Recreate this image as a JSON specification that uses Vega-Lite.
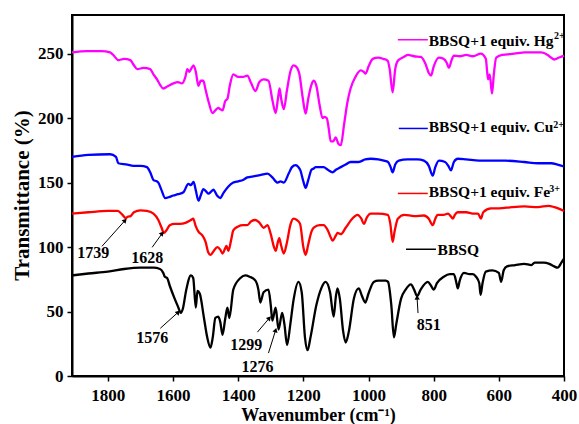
{
  "$schema": "https://vega.github.io/schema/vega-lite/v6.json",
  "width": 492,
  "height": 361,
  "autosize": {"type": "none"},
  "padding": {"left": 72, "top": 15, "right": 15, "bottom": 48},
  "background": "white",
  "config": {
    "view": {"stroke": "black", "strokeWidth": 2},
    "font": "Liberation Serif",
    "axis": {
      "grid": false,
      "domainColor": "black",
      "domainWidth": 2,
      "tickColor": "black",
      "tickWidth": 1.5,
      "tickSize": 5,
      "labelFont": "Liberation Serif",
      "labelFontWeight": "bold",
      "labelColor": "black",
      "titleFont": "Liberation Serif",
      "titleFontWeight": "bold",
      "titleColor": "black"
    }
  },
  "datasets": {
    "spectra": [
      {"series":"BBSQ","wn":1910,"t":78},{"series":"BBSQ","wn":1860,"t":79.5},{"series":"BBSQ","wn":1800,"t":81},{"series":"BBSQ","wn":1750,"t":83},{"series":"BBSQ","wn":1700,"t":84},{"series":"BBSQ","wn":1660,"t":84},{"series":"BBSQ","wn":1640,"t":83},{"series":"BBSQ","wn":1630,"t":80},{"series":"BBSQ","wn":1625,"t":77},{"series":"BBSQ","wn":1618,"t":76},{"series":"BBSQ","wn":1610,"t":70},{"series":"BBSQ","wn":1595,"t":60},{"series":"BBSQ","wn":1585,"t":54},{"series":"BBSQ","wn":1576,"t":49},{"series":"BBSQ","wn":1570,"t":52},{"series":"BBSQ","wn":1560,"t":66},{"series":"BBSQ","wn":1545,"t":78},{"series":"BBSQ","wn":1538,"t":76},{"series":"BBSQ","wn":1530,"t":53},{"series":"BBSQ","wn":1525,"t":66},{"series":"BBSQ","wn":1518,"t":64},{"series":"BBSQ","wn":1505,"t":45},{"series":"BBSQ","wn":1495,"t":30},{"series":"BBSQ","wn":1485,"t":22},{"series":"BBSQ","wn":1478,"t":30},{"series":"BBSQ","wn":1470,"t":45},{"series":"BBSQ","wn":1461,"t":46},{"series":"BBSQ","wn":1455,"t":42},{"series":"BBSQ","wn":1448,"t":32},{"series":"BBSQ","wn":1440,"t":44},{"series":"BBSQ","wn":1433,"t":53},{"series":"BBSQ","wn":1427,"t":45},{"series":"BBSQ","wn":1415,"t":67},{"series":"BBSQ","wn":1393,"t":76},{"series":"BBSQ","wn":1378,"t":78},{"series":"BBSQ","wn":1365,"t":77},{"series":"BBSQ","wn":1347,"t":74},{"series":"BBSQ","wn":1338,"t":67},{"series":"BBSQ","wn":1332,"t":57},{"series":"BBSQ","wn":1322,"t":65},{"series":"BBSQ","wn":1307,"t":67},{"series":"BBSQ","wn":1300,"t":55},{"series":"BBSQ","wn":1295,"t":43},{"series":"BBSQ","wn":1285,"t":53},{"series":"BBSQ","wn":1276,"t":36},{"series":"BBSQ","wn":1265,"t":49},{"series":"BBSQ","wn":1258,"t":40},{"series":"BBSQ","wn":1250,"t":24},{"series":"BBSQ","wn":1240,"t":40},{"series":"BBSQ","wn":1230,"t":59},{"series":"BBSQ","wn":1215,"t":73},{"series":"BBSQ","wn":1205,"t":65},{"series":"BBSQ","wn":1195,"t":30},{"series":"BBSQ","wn":1187,"t":20},{"series":"BBSQ","wn":1178,"t":30},{"series":"BBSQ","wn":1160,"t":55},{"series":"BBSQ","wn":1145,"t":68},{"series":"BBSQ","wn":1132,"t":73},{"series":"BBSQ","wn":1118,"t":65},{"series":"BBSQ","wn":1107,"t":46},{"series":"BBSQ","wn":1100,"t":62},{"series":"BBSQ","wn":1095,"t":68},{"series":"BBSQ","wn":1088,"t":60},{"series":"BBSQ","wn":1078,"t":35},{"series":"BBSQ","wn":1070,"t":26},{"series":"BBSQ","wn":1060,"t":35},{"series":"BBSQ","wn":1045,"t":60},{"series":"BBSQ","wn":1030,"t":68},{"series":"BBSQ","wn":1020,"t":62},{"series":"BBSQ","wn":1010,"t":57},{"series":"BBSQ","wn":1000,"t":64},{"series":"BBSQ","wn":984,"t":73},{"series":"BBSQ","wn":970,"t":74},{"series":"BBSQ","wn":947,"t":74},{"series":"BBSQ","wn":940,"t":73},{"series":"BBSQ","wn":930,"t":55},{"series":"BBSQ","wn":922,"t":30},{"series":"BBSQ","wn":915,"t":40},{"series":"BBSQ","wn":900,"t":60},{"series":"BBSQ","wn":886,"t":67},{"series":"BBSQ","wn":870,"t":71},{"series":"BBSQ","wn":860,"t":67},{"series":"BBSQ","wn":851,"t":62},{"series":"BBSQ","wn":840,"t":67},{"series":"BBSQ","wn":818,"t":73},{"series":"BBSQ","wn":808,"t":70},{"series":"BBSQ","wn":800,"t":67},{"series":"BBSQ","wn":790,"t":72},{"series":"BBSQ","wn":769,"t":77},{"series":"BBSQ","wn":750,"t":79},{"series":"BBSQ","wn":738,"t":79},{"series":"BBSQ","wn":730,"t":72},{"series":"BBSQ","wn":726,"t":68},{"series":"BBSQ","wn":720,"t":74},{"series":"BBSQ","wn":707,"t":80},{"series":"BBSQ","wn":690,"t":79},{"series":"BBSQ","wn":680,"t":79},{"series":"BBSQ","wn":670,"t":77},{"series":"BBSQ","wn":660,"t":72},{"series":"BBSQ","wn":656,"t":63},{"series":"BBSQ","wn":650,"t":72},{"series":"BBSQ","wn":640,"t":81},{"series":"BBSQ","wn":620,"t":82},{"series":"BBSQ","wn":600,"t":80},{"series":"BBSQ","wn":593,"t":73},{"series":"BBSQ","wn":585,"t":82},{"series":"BBSQ","wn":575,"t":85},{"series":"BBSQ","wn":550,"t":86},{"series":"BBSQ","wn":522,"t":87},{"series":"BBSQ","wn":500,"t":86},{"series":"BBSQ","wn":490,"t":88},{"series":"BBSQ","wn":462,"t":88},{"series":"BBSQ","wn":445,"t":87},{"series":"BBSQ","wn":430,"t":85},{"series":"BBSQ","wn":420,"t":84},{"series":"BBSQ","wn":415,"t":85},{"series":"BBSQ","wn":408,"t":88},{"series":"BBSQ","wn":400,"t":91},

      {"series":"Fe","wn":1910,"t":126},{"series":"Fe","wn":1860,"t":127},{"series":"Fe","wn":1800,"t":128},{"series":"Fe","wn":1770,"t":128},{"series":"Fe","wn":1755,"t":125},{"series":"Fe","wn":1745,"t":122.5},{"series":"Fe","wn":1739,"t":123.5},{"series":"Fe","wn":1730,"t":124},{"series":"Fe","wn":1720,"t":127},{"series":"Fe","wn":1700,"t":128.5},{"series":"Fe","wn":1680,"t":128},{"series":"Fe","wn":1660,"t":126},{"series":"Fe","wn":1645,"t":121},{"series":"Fe","wn":1635,"t":115},{"series":"Fe","wn":1628,"t":111},{"series":"Fe","wn":1620,"t":113},{"series":"Fe","wn":1610,"t":117},{"series":"Fe","wn":1595,"t":118},{"series":"Fe","wn":1580,"t":118},{"series":"Fe","wn":1560,"t":119},{"series":"Fe","wn":1545,"t":121},{"series":"Fe","wn":1538,"t":122},{"series":"Fe","wn":1530,"t":116},{"series":"Fe","wn":1522,"t":112},{"series":"Fe","wn":1510,"t":109},{"series":"Fe","wn":1500,"t":104},{"series":"Fe","wn":1492,"t":96},{"series":"Fe","wn":1485,"t":94},{"series":"Fe","wn":1475,"t":97},{"series":"Fe","wn":1464,"t":100},{"series":"Fe","wn":1455,"t":98},{"series":"Fe","wn":1448,"t":95},{"series":"Fe","wn":1440,"t":99},{"series":"Fe","wn":1436,"t":101},{"series":"Fe","wn":1430,"t":97},{"series":"Fe","wn":1422,"t":105},{"series":"Fe","wn":1415,"t":113},{"series":"Fe","wn":1400,"t":116},{"series":"Fe","wn":1385,"t":117},{"series":"Fe","wn":1372,"t":117},{"series":"Fe","wn":1360,"t":120},{"series":"Fe","wn":1347,"t":121},{"series":"Fe","wn":1335,"t":119},{"series":"Fe","wn":1322,"t":115},{"series":"Fe","wn":1310,"t":117},{"series":"Fe","wn":1300,"t":110},{"series":"Fe","wn":1290,"t":100},{"series":"Fe","wn":1285,"t":97},{"series":"Fe","wn":1278,"t":104},{"series":"Fe","wn":1274,"t":107},{"series":"Fe","wn":1268,"t":101},{"series":"Fe","wn":1260,"t":95},{"series":"Fe","wn":1250,"t":104},{"series":"Fe","wn":1240,"t":117},{"series":"Fe","wn":1230,"t":122},{"series":"Fe","wn":1220,"t":121},{"series":"Fe","wn":1210,"t":118},{"series":"Fe","wn":1200,"t":100},{"series":"Fe","wn":1193,"t":94},{"series":"Fe","wn":1185,"t":102},{"series":"Fe","wn":1175,"t":112},{"series":"Fe","wn":1168,"t":115},{"series":"Fe","wn":1150,"t":117},{"series":"Fe","wn":1138,"t":117},{"series":"Fe","wn":1125,"t":113},{"series":"Fe","wn":1115,"t":107},{"series":"Fe","wn":1110,"t":105},{"series":"Fe","wn":1100,"t":109},{"series":"Fe","wn":1095,"t":111},{"series":"Fe","wn":1085,"t":110},{"series":"Fe","wn":1070,"t":115},{"series":"Fe","wn":1050,"t":122},{"series":"Fe","wn":1034,"t":125},{"series":"Fe","wn":1022,"t":122},{"series":"Fe","wn":1014,"t":118},{"series":"Fe","wn":1005,"t":123},{"series":"Fe","wn":993,"t":126},{"series":"Fe","wn":970,"t":126},{"series":"Fe","wn":941,"t":125},{"series":"Fe","wn":933,"t":118},{"series":"Fe","wn":926,"t":104},{"series":"Fe","wn":920,"t":112},{"series":"Fe","wn":910,"t":122},{"series":"Fe","wn":890,"t":125},{"series":"Fe","wn":860,"t":124},{"series":"Fe","wn":830,"t":124.5},{"series":"Fe","wn":815,"t":122},{"series":"Fe","wn":803,"t":117},{"series":"Fe","wn":795,"t":122},{"series":"Fe","wn":788,"t":125},{"series":"Fe","wn":770,"t":125},{"series":"Fe","wn":756,"t":126},{"series":"Fe","wn":748,"t":124},{"series":"Fe","wn":741,"t":122},{"series":"Fe","wn":735,"t":125},{"series":"Fe","wn":726,"t":127},{"series":"Fe","wn":700,"t":127},{"series":"Fe","wn":680,"t":126},{"series":"Fe","wn":664,"t":126},{"series":"Fe","wn":655,"t":122},{"series":"Fe","wn":648,"t":127},{"series":"Fe","wn":624,"t":130},{"series":"Fe","wn":600,"t":130},{"series":"Fe","wn":560,"t":131},{"series":"Fe","wn":522,"t":131.5},{"series":"Fe","wn":480,"t":131},{"series":"Fe","wn":448,"t":132},{"series":"Fe","wn":430,"t":131},{"series":"Fe","wn":418,"t":130},{"series":"Fe","wn":400,"t":128},

      {"series":"Cu","wn":1910,"t":170},{"series":"Cu","wn":1860,"t":171.5},{"series":"Cu","wn":1793,"t":172},{"series":"Cu","wn":1775,"t":170},{"series":"Cu","wn":1768,"t":165},{"series":"Cu","wn":1740,"t":164},{"series":"Cu","wn":1722,"t":163},{"series":"Cu","wn":1700,"t":163},{"series":"Cu","wn":1680,"t":162},{"series":"Cu","wn":1670,"t":158},{"series":"Cu","wn":1660,"t":152},{"series":"Cu","wn":1650,"t":151},{"series":"Cu","wn":1645,"t":150},{"series":"Cu","wn":1635,"t":144},{"series":"Cu","wn":1624,"t":138},{"series":"Cu","wn":1610,"t":139},{"series":"Cu","wn":1599,"t":140},{"series":"Cu","wn":1585,"t":141},{"series":"Cu","wn":1568,"t":142.5},{"series":"Cu","wn":1553,"t":149},{"series":"Cu","wn":1545,"t":148},{"series":"Cu","wn":1537,"t":150.5},{"series":"Cu","wn":1530,"t":144},{"series":"Cu","wn":1522,"t":136},{"series":"Cu","wn":1515,"t":140},{"series":"Cu","wn":1507,"t":145},{"series":"Cu","wn":1498,"t":143},{"series":"Cu","wn":1491,"t":141.5},{"series":"Cu","wn":1483,"t":143},{"series":"Cu","wn":1476,"t":144.5},{"series":"Cu","wn":1465,"t":140},{"series":"Cu","wn":1455,"t":138},{"series":"Cu","wn":1445,"t":142},{"series":"Cu","wn":1430,"t":147},{"series":"Cu","wn":1415,"t":150},{"series":"Cu","wn":1400,"t":151},{"series":"Cu","wn":1385,"t":152},{"series":"Cu","wn":1372,"t":154},{"series":"Cu","wn":1350,"t":155},{"series":"Cu","wn":1330,"t":156},{"series":"Cu","wn":1310,"t":157},{"series":"Cu","wn":1295,"t":154},{"series":"Cu","wn":1279,"t":150},{"series":"Cu","wn":1270,"t":151},{"series":"Cu","wn":1260,"t":150},{"series":"Cu","wn":1245,"t":157},{"series":"Cu","wn":1235,"t":162},{"series":"Cu","wn":1224,"t":163.5},{"series":"Cu","wn":1215,"t":162},{"series":"Cu","wn":1209,"t":159.5},{"series":"Cu","wn":1200,"t":151},{"series":"Cu","wn":1193,"t":146},{"series":"Cu","wn":1185,"t":152},{"series":"Cu","wn":1175,"t":160},{"series":"Cu","wn":1168,"t":161},{"series":"Cu","wn":1162,"t":162},{"series":"Cu","wn":1150,"t":162},{"series":"Cu","wn":1138,"t":162},{"series":"Cu","wn":1125,"t":160},{"series":"Cu","wn":1110,"t":158},{"series":"Cu","wn":1100,"t":160},{"series":"Cu","wn":1085,"t":162},{"series":"Cu","wn":1070,"t":164},{"series":"Cu","wn":1055,"t":166},{"series":"Cu","wn":1030,"t":166},{"series":"Cu","wn":1010,"t":168},{"series":"Cu","wn":993,"t":168.5},{"series":"Cu","wn":970,"t":168},{"series":"Cu","wn":953,"t":167},{"series":"Cu","wn":940,"t":166},{"series":"Cu","wn":932,"t":162},{"series":"Cu","wn":926,"t":158},{"series":"Cu","wn":918,"t":164},{"series":"Cu","wn":907,"t":167},{"series":"Cu","wn":880,"t":168},{"series":"Cu","wn":850,"t":168},{"series":"Cu","wn":830,"t":167},{"series":"Cu","wn":815,"t":163},{"series":"Cu","wn":803,"t":155.5},{"series":"Cu","wn":795,"t":162},{"series":"Cu","wn":784,"t":167},{"series":"Cu","wn":765,"t":166},{"series":"Cu","wn":755,"t":163},{"series":"Cu","wn":747,"t":159.5},{"series":"Cu","wn":738,"t":166},{"series":"Cu","wn":726,"t":168.5},{"series":"Cu","wn":700,"t":168},{"series":"Cu","wn":660,"t":167},{"series":"Cu","wn":624,"t":167},{"series":"Cu","wn":580,"t":167},{"series":"Cu","wn":522,"t":166},{"series":"Cu","wn":480,"t":165},{"series":"Cu","wn":439,"t":165},{"series":"Cu","wn":420,"t":164},{"series":"Cu","wn":400,"t":162.5},

      {"series":"Hg","wn":1910,"t":251},{"series":"Hg","wn":1864,"t":252},{"series":"Hg","wn":1820,"t":252},{"series":"Hg","wn":1793,"t":251},{"series":"Hg","wn":1780,"t":248},{"series":"Hg","wn":1768,"t":245},{"series":"Hg","wn":1750,"t":246},{"series":"Hg","wn":1731,"t":245},{"series":"Hg","wn":1720,"t":241},{"series":"Hg","wn":1710,"t":238},{"series":"Hg","wn":1690,"t":239},{"series":"Hg","wn":1670,"t":238},{"series":"Hg","wn":1660,"t":234},{"series":"Hg","wn":1649,"t":230},{"series":"Hg","wn":1640,"t":226},{"series":"Hg","wn":1630,"t":223},{"series":"Hg","wn":1615,"t":225},{"series":"Hg","wn":1599,"t":227},{"series":"Hg","wn":1585,"t":228},{"series":"Hg","wn":1572,"t":227},{"series":"Hg","wn":1562,"t":232},{"series":"Hg","wn":1556,"t":238},{"series":"Hg","wn":1550,"t":236},{"series":"Hg","wn":1547,"t":237},{"series":"Hg","wn":1537,"t":241},{"series":"Hg","wn":1530,"t":236},{"series":"Hg","wn":1522,"t":225},{"series":"Hg","wn":1515,"t":229},{"series":"Hg","wn":1507,"t":229},{"series":"Hg","wn":1500,"t":222},{"series":"Hg","wn":1490,"t":212},{"series":"Hg","wn":1479,"t":204},{"series":"Hg","wn":1470,"t":206},{"series":"Hg","wn":1461,"t":208},{"series":"Hg","wn":1455,"t":207},{"series":"Hg","wn":1448,"t":206},{"series":"Hg","wn":1440,"t":213},{"series":"Hg","wn":1433,"t":215},{"series":"Hg","wn":1425,"t":226},{"series":"Hg","wn":1415,"t":234},{"series":"Hg","wn":1400,"t":232},{"series":"Hg","wn":1385,"t":232},{"series":"Hg","wn":1372,"t":233},{"series":"Hg","wn":1360,"t":227},{"series":"Hg","wn":1347,"t":221},{"series":"Hg","wn":1335,"t":228},{"series":"Hg","wn":1322,"t":230},{"series":"Hg","wn":1307,"t":229},{"series":"Hg","wn":1295,"t":214},{"series":"Hg","wn":1285,"t":204},{"series":"Hg","wn":1278,"t":215},{"series":"Hg","wn":1273,"t":223},{"series":"Hg","wn":1268,"t":215},{"series":"Hg","wn":1260,"t":207},{"series":"Hg","wn":1250,"t":222},{"series":"Hg","wn":1240,"t":236},{"series":"Hg","wn":1230,"t":241},{"series":"Hg","wn":1222,"t":240},{"series":"Hg","wn":1212,"t":234},{"series":"Hg","wn":1202,"t":216},{"series":"Hg","wn":1193,"t":203.5},{"series":"Hg","wn":1185,"t":215},{"series":"Hg","wn":1175,"t":226},{"series":"Hg","wn":1168,"t":229},{"series":"Hg","wn":1160,"t":225},{"series":"Hg","wn":1150,"t":210},{"series":"Hg","wn":1141,"t":200},{"series":"Hg","wn":1135,"t":201},{"series":"Hg","wn":1128,"t":200},{"series":"Hg","wn":1122,"t":192},{"series":"Hg","wn":1116,"t":182},{"series":"Hg","wn":1108,"t":182},{"series":"Hg","wn":1101,"t":185},{"series":"Hg","wn":1092,"t":180},{"series":"Hg","wn":1085,"t":179},{"series":"Hg","wn":1075,"t":195},{"series":"Hg","wn":1065,"t":212},{"series":"Hg","wn":1055,"t":223},{"series":"Hg","wn":1040,"t":232},{"series":"Hg","wn":1024,"t":237},{"series":"Hg","wn":1015,"t":236},{"series":"Hg","wn":1009,"t":234.5},{"series":"Hg","wn":1000,"t":240},{"series":"Hg","wn":987,"t":246},{"series":"Hg","wn":970,"t":247},{"series":"Hg","wn":955,"t":246},{"series":"Hg","wn":941,"t":244.5},{"series":"Hg","wn":935,"t":238},{"series":"Hg","wn":926,"t":220},{"series":"Hg","wn":918,"t":238},{"series":"Hg","wn":910,"t":244.5},{"series":"Hg","wn":895,"t":247},{"series":"Hg","wn":879,"t":249},{"series":"Hg","wn":860,"t":248},{"series":"Hg","wn":839,"t":247.5},{"series":"Hg","wn":825,"t":242},{"series":"Hg","wn":815,"t":235},{"series":"Hg","wn":808,"t":233},{"series":"Hg","wn":800,"t":240},{"series":"Hg","wn":784,"t":247},{"series":"Hg","wn":770,"t":246},{"series":"Hg","wn":760,"t":243},{"series":"Hg","wn":753,"t":239},{"series":"Hg","wn":745,"t":245},{"series":"Hg","wn":738,"t":248.5},{"series":"Hg","wn":720,"t":248},{"series":"Hg","wn":700,"t":249},{"series":"Hg","wn":680,"t":248},{"series":"Hg","wn":655,"t":250},{"series":"Hg","wn":640,"t":246},{"series":"Hg","wn":633,"t":230},{"series":"Hg","wn":628,"t":234},{"series":"Hg","wn":621,"t":219},{"series":"Hg","wn":615,"t":235},{"series":"Hg","wn":608,"t":247},{"series":"Hg","wn":590,"t":249},{"series":"Hg","wn":553,"t":250},{"series":"Hg","wn":520,"t":251},{"series":"Hg","wn":490,"t":251},{"series":"Hg","wn":470,"t":251},{"series":"Hg","wn":450,"t":249},{"series":"Hg","wn":440,"t":247},{"series":"Hg","wn":430,"t":245.5},{"series":"Hg","wn":415,"t":247},{"series":"Hg","wn":400,"t":248.5}
    ],
    "legendLines": [
      {"series":"Hg","x":910,"x2":818,"y":260.8},
      {"series":"Cu","x":907,"x2":818,"y":192},
      {"series":"Fe","x":910,"x2":818,"y":141.6},
      {"series":"BBSQ","x":885,"x2":793,"y":98.3}
    ],
    "legendText": [
      {"label":"BBSQ+1 equiv. Hg","x":815,"y":256.2},
      {"label":"BBSQ+1 equiv. Cu","x":815,"y":188.9},
      {"label":"BBSQ+1 equiv. Fe","x":815,"y":138.5},
      {"label":"BBSQ","x":788,"y":93.7}
    ],
    "supText": [
      {"label":"2+","x":431,"y":261},
      {"label":"2+","x":433,"y":192.7},
      {"label":"3+","x":445,"y":142.4}
    ],
    "arrows": [
      {"peak":"1739","x":1818,"y":100.6,"x2":1747,"y2":120.7},
      {"peak":"1628","x":1664,"y":99.8,"x2":1633,"y2":110.7},
      {"peak":"1576","x":1639,"y":37,"x2":1584,"y2":49.5},
      {"peak":"1299","x":1341,"y":34,"x2":1304,"y2":45},
      {"peak":"1276","x":1307,"y":17.8,"x2":1285,"y2":35.6},
      {"peak":"851","x":848,"y":48.8,"x2":851,"y2":61}
    ],
    "peakLabels": [
      {"peak":"1739","x":1845,"y":91.3},
      {"peak":"1628","x":1679,"y":87.5},
      {"peak":"1576","x":1664,"y":25.5},
      {"peak":"1299","x":1375,"y":20},
      {"peak":"1276","x":1341,"y":3.1},
      {"peak":"851","x":815,"y":35.6}
    ]
  },
  "layer": [
    {
      "data": {"name": "spectra"},
      "mark": {"type": "line", "strokeWidth": 2.3, "interpolate": "monotone"},
      "encoding": {
        "x": {
          "field": "wn", "type": "quantitative",
          "title": "Wavenumber (cm⁻¹)",
          "scale": {"domain": [400, 1910], "reverse": true, "nice": false, "zero": false},
          "axis": {
            "values": [1900,1800,1700,1600,1500,1400,1300,1200,1100,1000,900,800,700,600,500,400],
            "format": "d",
            "labelExpr": "datum.value % 200 == 0 ? datum.label : ''",
            "labelFontSize": 17,
            "labelPadding": 6,
            "labelFlush": false,
            "labelOverlap": false,
            "titleFontSize": 18,
            "titleBaseline": "alphabetic",
            "titleY": 44
          }
        },
        "y": {
          "field": "t", "type": "quantitative",
          "title": "Transmittance (%)",
          "scale": {"domain": [0, 280], "nice": false},
          "axis": {
            "values": [0,25,50,75,100,125,150,175,200,225,250,275],
            "labelExpr": "datum.value % 50 == 0 ? datum.label : ''",
            "labelFontSize": 17,
            "labelPadding": 4,
            "labelOverlap": false,
            "labelFlush": false,
            "titleFontSize": 21,
            "titleX": -50,
            "titleY": 180,
            "titleAlign": "center",
            "titleBaseline": "middle",
            "titleAngle": -90
          }
        },
        "color": {
          "field": "series", "type": "nominal",
          "scale": {"domain": ["BBSQ","Fe","Cu","Hg"], "range": ["#000000","#ff0000","#0000ff","#ff00ff"]},
          "legend": null
        },
        "detail": {"field": "series"}
      }
    },
    {
      "data": {"name": "legendLines"},
      "mark": {"type": "rule", "strokeWidth": 1.5},
      "encoding": {
        "x": {"field": "x", "type": "quantitative", "title": "Wavenumber (cm⁻¹)"},
        "x2": {"field": "x2"},
        "y": {"field": "y", "type": "quantitative", "title": "Transmittance (%)"},
        "color": {"field": "series", "type": "nominal", "legend": null}
      }
    },
    {
      "data": {"name": "legendText"},
      "mark": {"type": "text", "align": "left", "baseline": "alphabetic", "font": "Liberation Serif", "fontWeight": "bold", "fontSize": 15.5, "color": "black"},
      "encoding": {
        "x": {"field": "x", "type": "quantitative", "title": "Wavenumber (cm⁻¹)"},
        "y": {"field": "y", "type": "quantitative", "title": "Transmittance (%)"},
        "text": {"field": "label"}
      }
    },
    {
      "data": {"name": "supText"},
      "mark": {"type": "text", "align": "left", "baseline": "alphabetic", "font": "Liberation Serif", "fontWeight": "bold", "fontSize": 10, "color": "black"},
      "encoding": {
        "x": {"field": "x", "type": "quantitative", "title": "Wavenumber (cm⁻¹)"},
        "y": {"field": "y", "type": "quantitative", "title": "Transmittance (%)"},
        "text": {"field": "label"}
      }
    },
    {
      "data": {"name": "arrows"},
      "mark": {"type": "rule", "strokeWidth": 1, "color": "black"},
      "encoding": {
        "x": {"field": "x", "type": "quantitative", "title": "Wavenumber (cm⁻¹)"},
        "y": {"field": "y", "type": "quantitative", "title": "Transmittance (%)"},
        "x2": {"field": "x2"},
        "y2": {"field": "y2"}
      }
    },
    {
      "data": {"name": "arrows"},
      "transform": [{"filter": "datum.peak == '1739' || datum.peak == '1628' || datum.peak == '1576' || datum.peak == '1299'"}],
      "mark": {"type": "point", "shape": "triangle-up", "filled": true, "size": 28, "angle": 42, "color": "black", "opacity": 1},
      "encoding": {
        "x": {"field": "x2", "type": "quantitative", "title": "Wavenumber (cm⁻¹)"},
        "y": {"field": "y2", "type": "quantitative", "title": "Transmittance (%)"}
      }
    },
    {
      "data": {"name": "arrows"},
      "transform": [{"filter": "datum.peak == '1276'"}],
      "mark": {"type": "point", "shape": "triangle-up", "filled": true, "size": 28, "angle": 17, "color": "black", "opacity": 1},
      "encoding": {
        "x": {"field": "x2", "type": "quantitative", "title": "Wavenumber (cm⁻¹)"},
        "y": {"field": "y2", "type": "quantitative", "title": "Transmittance (%)"}
      }
    },
    {
      "data": {"name": "arrows"},
      "transform": [{"filter": "datum.peak == '851'"}],
      "mark": {"type": "point", "shape": "triangle-up", "filled": true, "size": 28, "angle": -4, "color": "black", "opacity": 1},
      "encoding": {
        "x": {"field": "x2", "type": "quantitative", "title": "Wavenumber (cm⁻¹)"},
        "y": {"field": "y2", "type": "quantitative", "title": "Transmittance (%)"}
      }
    },
    {
      "data": {"name": "peakLabels"},
      "mark": {"type": "text", "align": "center", "baseline": "alphabetic", "font": "Liberation Serif", "fontWeight": "bold", "fontSize": 16, "color": "black"},
      "encoding": {
        "x": {"field": "x", "type": "quantitative", "title": "Wavenumber (cm⁻¹)"},
        "y": {"field": "y", "type": "quantitative", "title": "Transmittance (%)"},
        "text": {"field": "peak"}
      }
    }
  ]
}
